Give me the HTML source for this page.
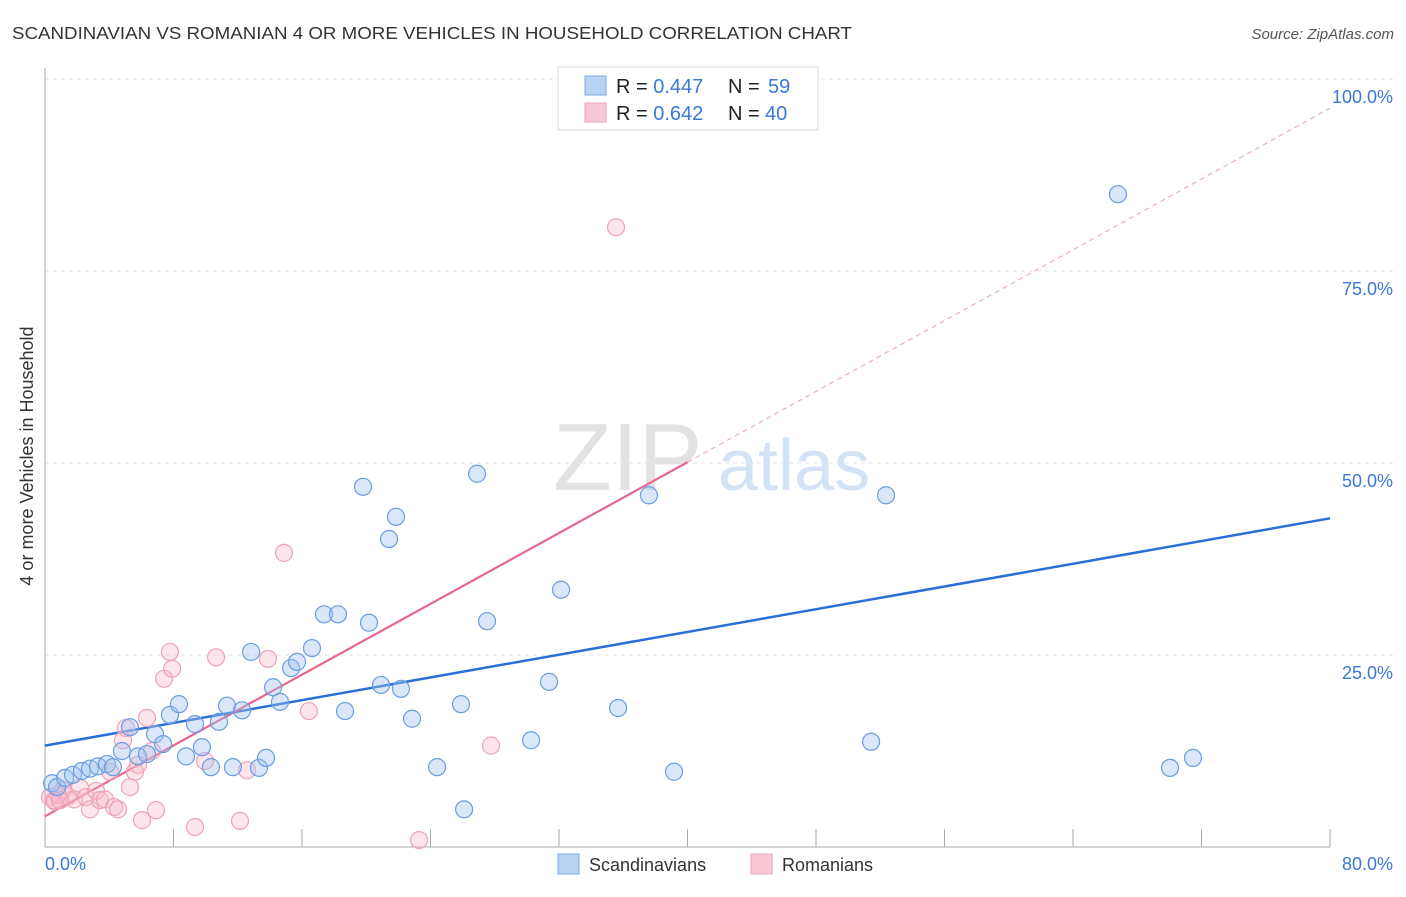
<!DOCTYPE html>
<html><head><meta charset="utf-8"><style>
body{margin:0;background:#fff;font-family:"Liberation Sans",sans-serif;}
svg text{font-family:"Liberation Sans",sans-serif;}
</style></head><body>
<svg id="chart" width="1406" height="892">
<text x="12" y="39" font-size="17.5" fill="#333" textLength="840" lengthAdjust="spacingAndGlyphs">SCANDINAVIAN VS ROMANIAN 4 OR MORE VEHICLES IN HOUSEHOLD CORRELATION CHART</text>
<text x="1394" y="39" font-size="15" fill="#555" font-style="italic" text-anchor="end">Source: ZipAtlas.com</text>
<text x="33" y="456" font-size="18" fill="#333" text-anchor="middle" transform="rotate(-90 33 456)">4 or more Vehicles in Household</text>
<g><text x="553" y="490" font-size="96" fill="#e2e2e2" font-family="Liberation Serif">ZIP</text><text x="718" y="490" font-size="72" fill="#d3e2f5">atlas</text></g>
<g id="grid"></g><g id="axes"></g><g id="trends"></g><g id="points"></g>
<g>
<rect x="558" y="67" width="260" height="63" fill="#fff" stroke="#ddd"/>
<rect x="585" y="76" width="21" height="19" fill="#b9d3f3" stroke="#7aa9e6"/>
<rect x="585" y="103" width="21" height="19" fill="#f8c8d6" stroke="#eda3b9"/>
<text x="616" y="93" font-size="20" fill="#222">R = <tspan fill="#3b78d8">0.447</tspan></text>
<text x="728" y="93" font-size="20" fill="#222">N = <tspan x="768" fill="#3b78d8">59</tspan></text>
<text x="616" y="120" font-size="20" fill="#222">R = <tspan fill="#3b78d8">0.642</tspan></text>
<text x="728" y="120" font-size="20" fill="#222">N = <tspan x="765" fill="#3b78d8">40</tspan></text>
</g>
<g>
<rect x="558" y="854" width="21" height="20" fill="#b9d3f3" stroke="#7aa9e6"/>
<text x="589" y="871" font-size="18" fill="#333">Scandinavians</text>
<rect x="751" y="854" width="21" height="20" fill="#f8c8d6" stroke="#eda3b9"/>
<text x="782" y="871" font-size="18" fill="#333">Romanians</text>
</g>
</svg>
<script>
const blueX=[0.44,0.75,1.25,1.74,2.30,2.80,3.30,3.86,4.23,4.79,5.29,5.79,6.35,6.85,7.35,7.78,8.34,8.78,9.34,9.77,10.33,10.83,11.33,11.70,12.27,12.83,13.32,13.76,14.20,14.63,15.32,15.69,16.62,17.37,18.24,18.68,19.80,20.17,20.92,21.42,21.85,22.16,22.85,24.41,25.90,26.09,26.90,27.52,30.26,31.38,32.13,35.68,37.60,39.16,51.43,52.36,66.80,70.04,71.47];
const blueY=[8.3,7.8,9.0,9.4,9.9,10.2,10.5,10.8,10.4,12.5,15.6,11.8,12.1,14.7,13.4,17.2,18.6,11.8,16.0,13.0,10.4,16.3,18.4,10.4,17.8,25.4,10.3,11.6,20.8,18.9,23.3,24.1,25.9,30.3,30.3,17.7,46.9,29.2,21.1,40.1,43.0,20.6,16.7,10.4,18.6,4.9,48.6,29.4,13.9,21.5,33.5,18.1,45.8,9.8,13.7,45.8,85.0,10.3,11.6];
const pinkX=[0.31,0.56,0.81,1.12,1.43,1.81,2.18,2.55,2.80,3.18,3.42,3.74,4.05,4.30,4.55,4.86,5.04,5.29,5.60,5.79,6.04,6.35,6.66,6.91,7.41,7.78,7.91,9.34,9.96,10.65,12.14,12.58,13.88,14.88,16.43,23.29,27.77,35.55,0.62,0.93];
const pinkY=[6.5,6.1,6.8,7.4,6.6,6.2,7.7,6.5,4.9,7.3,6.1,6.2,9.8,5.2,4.9,13.9,15.5,7.8,9.8,10.7,3.5,16.8,12.5,4.8,21.9,25.4,23.2,2.6,11.2,24.7,3.4,10.0,24.5,38.3,17.7,0.9,13.2,80.7,5.9,6.1];
const blueTrend=[13.2,42.8]; // y at x=0, x=80
const pinkTrend=[4.0,50.1]; // y at x=0, x=40
const yTicks=[25,50,75,100];
const yTickLabels=["25.0%","50.0%","75.0%","100.0%"];
const xTicks=[0,8,16,24,32,40,48,56,64,72,80];

const NS="http://www.w3.org/2000/svg";
const sx=v=>45+v*(1285/80);
const sy=v=>847-v*7.68;
function mk(tag,attrs,parent){const e=document.createElementNS(NS,tag);for(const k in attrs)e.setAttribute(k,attrs[k]);document.getElementById(parent).appendChild(e);return e;}

yTicks.forEach((t,i)=>{
  const g=mk('line',{x1:45,x2:1393,y1:sy(t),y2:sy(t),stroke:'#e2e2e2','stroke-dasharray':'4,4'},'grid');
  
  
  const l=mk('text',{x:1393,y:sy(t)+24,'font-size':18,fill:'#3b78d8','text-anchor':'end'},'grid');
  l.textContent=yTickLabels[i];
  
  
});
const ax=mk('line',{x1:45,x2:45,y1:68,y2:847,stroke:'#aaa'},'axes');


const bx=mk('line',{x1:45,x2:1330,y1:847,y2:847,stroke:'#aaa'},'axes');


xTicks.forEach(t=>{
  const tk=mk('line',{x1:sx(t),x2:sx(t),y1:829,y2:847,stroke:'#aaa'},'axes');
  
  
});
const x0=mk('text',{x:45,y:870,'font-size':18,fill:'#3b78d8'},'axes');x0.textContent='0.0%';


const x1=mk('text',{x:1393,y:870,'font-size':18,fill:'#3b78d8','text-anchor':'end'},'axes');x1.textContent='80.0%';



const bt=mk('line',{x1:sx(0),y1:sy(blueTrend[0]),x2:sx(80),y2:sy(blueTrend[1]),stroke:'#2a6fd6','stroke-width':2.5},'trends');


const slope=(pinkTrend[1]-pinkTrend[0])/40;
const pt=mk('line',{x1:sx(0),y1:sy(pinkTrend[0]),x2:sx(40),y2:sy(pinkTrend[1]),stroke:'#e8668e','stroke-width':2.2},'trends');


const pd=mk('line',{x1:sx(40),y1:sy(pinkTrend[1]),x2:sx(80),y2:sy(pinkTrend[0]+slope*80),stroke:'#eab0c2','stroke-width':1.2,'stroke-dasharray':'5,4'},'trends');



pinkX.forEach((x,i)=>{
  const c=mk('circle',{cx:sx(x),cy:sy(pinkY[i]),r:8.5,fill:'rgba(248,180,200,0.35)',stroke:'#eda3b9','stroke-width':1.2},'points');
  
  
});
blueX.forEach((x,i)=>{
  const c=mk('circle',{cx:sx(x),cy:sy(blueY[i]),r:8.5,fill:'rgba(160,195,240,0.4)',stroke:'#6a9de0','stroke-width':1.2},'points');
  
  
});
</script>
</body></html>
